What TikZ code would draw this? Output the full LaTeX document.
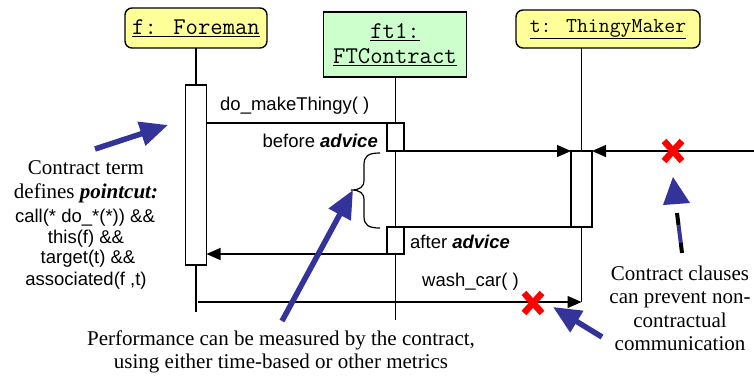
\documentclass[tikz,border=0pt]{standalone}
\usepackage{fontspec}
\setmainfont{Liberation Serif}
\setsansfont{Liberation Sans}
\usetikzlibrary{arrows.meta}
\definecolor{ayellow}{HTML}{FFFF99}
\definecolor{agreen}{HTML}{CCFFCC}
\definecolor{ablue}{HTML}{333399}
\definecolor{ared}{HTML}{FF0000}
\begin{document}
\begin{tikzpicture}[x=1pt,y=-1pt,
  lifeline/.style={line width=1.2pt},
  actbox/.style={draw,line width=1.2pt,fill=white,inner sep=0pt,outer sep=0pt},
  msg/.style={line width=1.2pt},
  msgarrow/.style={line width=1.2pt,-{Triangle[length=14pt,width=12pt]}},
  objbox/.style={draw,line width=1.4pt,inner sep=0pt,outer sep=0pt},
  monolbl/.style={font=\ttfamily\fontsize{24}{28}\selectfont},
  sanslbl/.style={font=\sffamily\fontsize{18.5}{22}\selectfont,inner sep=0pt},
  seriflbl/.style={font=\fontsize{21}{25}\selectfont,inner sep=0pt,anchor=base},
  bluearrow/.style={ablue,line width=5.5pt,-{Triangle[length=28pt,width=24pt]}},
  redx/.style={ared,line width=6.5pt}
]
\useasboundingbox (0,0) rectangle (754,376);

% object boxes
\node[objbox,rounded corners=7pt,fill=ayellow,minimum width=142pt,minimum height=40pt,monolbl] (fbox) at (196,28) {\underline{f: Foreman}};
\node[objbox,fill=agreen,minimum width=143pt,minimum height=65pt,monolbl,align=center] (ftbox) at (395,44.5) {\underline{ft1:}\\[-3pt]\underline{FTContract}};
\node[objbox,rounded corners=7pt,fill=ayellow,minimum width=184pt,minimum height=38pt,font=\ttfamily\fontsize{21.2}{24}\selectfont] (tbox) at (608,29) {\underline{t: ThingyMaker}};

% activation boxes
\node[actbox,minimum width=21pt,minimum height=180pt] (fact) at (196,175) {};
\node[actbox,minimum width=17pt,minimum height=28pt] (bbox) at (395.5,137) {};
\node[actbox,minimum width=17pt,minimum height=27pt] (abox) at (395.5,240.5) {};
\node[actbox,minimum width=21pt,minimum height=76pt] (tact) at (581.5,189) {};

% lifeline ends
\coordinate (fend) at (196,312);
\coordinate (ftend) at (395.5,320);
\coordinate (tend) at (581.5,302);
\coordinate (ttop) at (581.5,48);
\coordinate (rin) at (754,151);
\coordinate (wstart) at (198,302);

% lifelines
\draw[lifeline] (fbox.south) -- (fact.north);
\draw[lifeline] (fact.south) -- (fend);
\draw[lifeline] (ftbox.south -| bbox.north) -- (bbox.north);
\draw[lifeline] (bbox.south) -- (abox.north);
\draw[lifeline] (abox.south) -- (ftend);
\draw[lifeline] (ttop) -- (tact.north);
\draw[lifeline] (tact.south) -- (tend);

% messages
\draw[msg] (fact.east |- bbox.north) -- (bbox.north west);
\draw[msgarrow] (bbox.south east) -- (tact.north west);
\draw[msgarrow] (rin) -- (tact.north east);
\draw[msg] (tact.south west) -- (abox.north east);
\draw[msgarrow] (abox.south west) -- (fact.east |- abox.south);
\draw[msgarrow] (wstart) -- (tend);

% message labels
\node[sanslbl,anchor=base west] (l1) at (220,110) {do\_makeThingy( )};
\node[sanslbl,anchor=base east] (l2) at (378,147) {before \textbf{\textit{advice}}};
\node[sanslbl,anchor=base west] (l3) at (410,248) {after \textbf{\textit{advice}}};
\node[sanslbl,anchor=base west] (l4) at (422,286) {wash\_car( )};

% brace
\draw[line width=1.2pt] (380,153) .. controls (368,153) and (364,156) .. (364,165) -- (364,180)
  .. controls (364,187) and (360,190) .. (351,190) .. controls (360,190) and (364,193) .. (364,200)
  -- (364,216) .. controls (364,225) and (368,228) .. (380,228);

% red crosses
\coordinate (x1) at (673,151);
\coordinate (x2) at (533,303);
\draw[redx] ([shift={(-9,-10)}]x1) -- ([shift={(9,10)}]x1);
\draw[redx] ([shift={(9,-10)}]x1) -- ([shift={(-9,10)}]x1);
\draw[redx] ([shift={(-9,-10)}]x2) -- ([shift={(9,10)}]x2);
\draw[redx] ([shift={(9,-10)}]x2) -- ([shift={(-9,10)}]x2);

% blue arrows
\coordinate (b1s) at (95,149);
\coordinate (b1e) at (168,125);
\coordinate (b2s) at (282,321);
\coordinate (b2e) at (353,190);
\coordinate (b3s) at (602,337);
\coordinate (b3e) at (553,307);
\draw[bluearrow] (b1s) -- (b1e);
\draw[bluearrow] (b2s) -- (b2e);
\draw[bluearrow] (b3s) -- (b3e);
\fill[ablue] (673,177) -- (663,205) -- (690,203) -- cycle;
\draw[line width=4pt] (677,213) -- (678.5,225);
\draw[ablue,line width=4pt] (678.5,225) -- (680.8,243);
\draw[line width=4pt] (680.8,243) -- (682,253);

% left text
\node[seriflbl] (t1) at (86,174) {Contract term};
\node[seriflbl] (t2) at (86,198) {defines \textbf{\textit{pointcut:}}};
\node[sanslbl,anchor=base] (t3) at (85,222) {call(* do\_*(*)) \&\&};
\node[sanslbl,anchor=base] (t4) at (86,243) {this(f) \&\&};
\node[sanslbl,anchor=base] (t5) at (88,263) {target(t) \&\&};
\node[sanslbl,anchor=base] (t6) at (86,285) {associated(f ,t)};

% bottom text
\node[seriflbl] (p1) at (281,345) {Performance can be measured by the contract,};
\node[seriflbl] (p2) at (281,368) {using either time-based or other metrics};

% right text
\node[seriflbl] (r1) at (680,280) {Contract clauses};
\node[seriflbl] (r2) at (680,303) {can prevent non-};
\node[seriflbl] (r3) at (680,327) {contractual};
\node[seriflbl] (r4) at (680,350) {communication};
\end{tikzpicture}
\end{document}
